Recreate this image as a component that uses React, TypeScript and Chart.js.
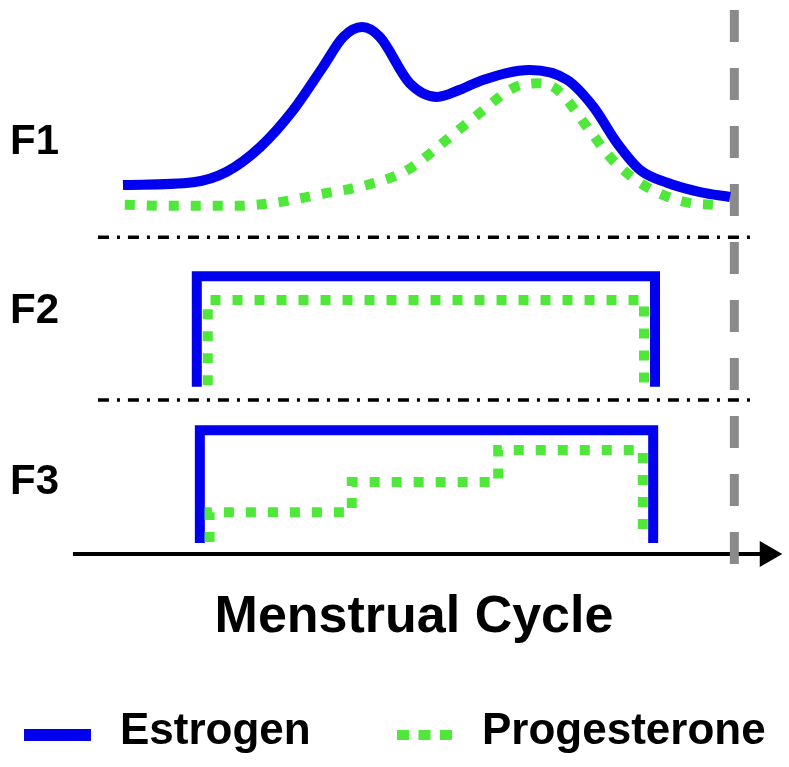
import React, { useEffect, useRef } from 'react';
import { Chart, registerables } from 'chart.js';

Chart.register(...registerables);

// x = position within the menstrual cycle (0 = start, 100 = end of cycle)
// y = hormone level inside each panel (added to the panel base)

const PANEL_LABELS = ['F3', 'F2', 'F1'];
const PANEL_BASES = [0, 28, 57.6];
const PANEL_LABEL_LEVELS = [13, 16.1, 17.2];

// F1: physiological curves
const F1_X_ESTROGEN = [-0.2, 11.3, 16.8, 22.3, 27.7, 32.6, 35.9, 39.0, 41.9, 46.8, 51.3, 55.0, 58.8, 66.5, 72.6, 76.9, 80.8, 84.6, 89.0, 94.4, 99.3];
const F1_ESTROGEN = [9.5, 10.0, 11.9, 16.4, 23.1, 31.0, 36.4, 38.2, 36.4, 28.0, 25.5, 26.8, 28.6, 30.4, 28.6, 23.7, 17.1, 12.2, 9.9, 8.2, 7.3];
const F1_X_PROGESTERONE = [0.1, 7.5, 18.5, 25.5, 32.6, 39.8, 46.4, 52.6, 58.3, 63.7, 67.7, 71.0, 75.9, 80.1, 85.7, 92.8, 96.9];
const F1_PROGESTERONE = [5.9, 5.7, 5.7, 6.4, 7.9, 9.5, 12.2, 17.5, 22.6, 27.1, 28.0, 26.8, 20.0, 14.0, 9.1, 6.2, 5.9];

// F2: constant doses
const F2_X_ESTROGEN = [11.9, 11.9, 87.0, 87.0];
const F2_ESTROGEN = [2.4, 22.5, 22.5, 2.4];
const F2_X_PROGESTERONE = [13.7, 13.7, 85.2, 85.2];
const F2_PROGESTERONE = [2.7, 18.2, 18.2, 2.7];

// F3: constant estrogen, stepped progesterone
const F3_X_ESTROGEN = [12.4, 12.4, 86.7, 86.7];
const F3_ESTROGEN = [2.0, 22.5, 22.5, 2.0];
const F3_X_PROGESTERONE = [14.0, 14.0, 37.3, 37.3, 61.3, 61.3, 85.0, 85.0];
const F3_PROGESTERONE = [2.2, 7.6, 7.6, 13.1, 13.1, 18.9, 18.9, 2.5];

// guides
const SEPARATOR_X = [-4.3, 102.6];
const CYCLE_END_X = [100, 100];
const CYCLE_END_Y = [98.9, -2.2];
const AXIS_X = [-8.4, 105.4];

const ESTROGEN_COLOR = '#0000EE';
const PROGESTERONE_COLOR = '#4FE83A';
const FONT = "'Liberation Sans', Arial, Helvetica, sans-serif";

const LEGEND_ITEMS = [
  { label: 'Estrogen', color: ESTROGEN_COLOR, dash: [] as number[], width: 12, x0: 24, x1: 91, tx: 120 },
  { label: 'Progesterone', color: PROGESTERONE_COLOR, dash: [12, 9.5], width: 10, x0: 397, x1: 452, tx: 482 },
];

const pts = (xs: number[], ys: number[], base: number) => xs.map((x, i) => ({ x, y: base + ys[i] }));

const legendPlugin = {
  id: 'bottomLegend',
  afterDraw(chart: any) {
    const ctx = chart.ctx as CanvasRenderingContext2D;
    ctx.save();
    LEGEND_ITEMS.forEach((it) => {
      ctx.beginPath();
      ctx.setLineDash(it.dash);
      ctx.lineCap = 'butt';
      ctx.lineWidth = it.width;
      ctx.strokeStyle = it.color;
      ctx.moveTo(it.x0, 735);
      ctx.lineTo(it.x1, 735);
      ctx.stroke();
      ctx.setLineDash([]);
      ctx.fillStyle = '#000';
      ctx.font = `bold 44px ${FONT}`;
      ctx.textAlign = 'left';
      ctx.textBaseline = 'middle';
      ctx.fillText(it.label, it.tx, 732);
    });
    ctx.restore();
  },
};

export default function App() {
  const ref = useRef<HTMLCanvasElement>(null);

  useEffect(() => {
    if (!ref.current) return;
    const common = { pointRadius: 0, clip: false as any, borderCapStyle: 'butt' as const, borderJoinStyle: 'miter' as const, fill: false };
    const est = (data: any[], curve: boolean) => ({
      ...common, label: 'Estrogen', data, borderColor: ESTROGEN_COLOR, borderWidth: 10,
      tension: curve ? 0.4 : 0, cubicInterpolationMode: curve ? ('monotone' as const) : ('default' as const),
    });
    const prog = (data: any[], curve: boolean) => ({
      ...common, label: 'Progesterone', data, borderColor: PROGESTERONE_COLOR, borderWidth: 10, borderDash: [10, 12],
      tension: curve ? 0.4 : 0, cubicInterpolationMode: curve ? ('monotone' as const) : ('default' as const),
    });
    const sep = (base: number) => ({
      ...common, label: 'separator', data: SEPARATOR_X.map((x) => ({ x, y: base })),
      borderColor: '#000', borderWidth: 3.5, borderDash: [11, 8, 3, 8], tension: 0,
    });

    const chart = new Chart(ref.current, {
      type: 'line',
      data: {
        datasets: [
          prog(pts(F1_X_PROGESTERONE, F1_PROGESTERONE, PANEL_BASES[2]), true),
          est(pts(F1_X_ESTROGEN, F1_ESTROGEN, PANEL_BASES[2]), true),
          prog(pts(F2_X_PROGESTERONE, F2_PROGESTERONE, PANEL_BASES[1]), false),
          est(pts(F2_X_ESTROGEN, F2_ESTROGEN, PANEL_BASES[1]), false),
          prog(pts(F3_X_PROGESTERONE, F3_PROGESTERONE, PANEL_BASES[0]), false),
          est(pts(F3_X_ESTROGEN, F3_ESTROGEN, PANEL_BASES[0]), false),
          {
            ...common, label: 'cycle end', data: CYCLE_END_X.map((x, i) => ({ x, y: CYCLE_END_Y[i] })),
            borderColor: '#8A8A8A', borderWidth: 9, borderDash: [32, 26], tension: 0,
          },
          sep(PANEL_BASES[2]),
          sep(PANEL_BASES[1]),
          {
            ...common, label: 'axis', data: AXIS_X.map((x) => ({ x, y: 0 })),
            borderColor: '#000', borderWidth: 4, tension: 0,
            pointRadius: [0, 15], pointStyle: 'triangle', pointRotation: 90,
            pointBackgroundColor: '#000', pointBorderColor: '#000', pointBorderWidth: 0,
          } as any,
        ],
      },
      options: {
        responsive: false,
        animation: false,
        events: [],
        layout: { autoPadding: false, padding: { left: 10, right: 26, top: 4, bottom: 118.6 } },
        plugins: { legend: { display: false }, tooltip: { enabled: false }, title: { display: false } },
        scales: {
          x: {
            type: 'linear', min: -9.7, max: 104.7,
            grid: { display: false, drawTicks: false }, border: { display: false },
            ticks: { display: false },
            title: { display: true, text: 'Menstrual Cycle', color: '#000', font: { family: FONT, size: 52, weight: 'bold' }, padding: { top: 21, bottom: 0 } },
          },
          y: {
            type: 'linear', min: -2, max: 100, position: 'left',
            grid: { display: false, drawTicks: false }, border: { display: false },
            ticks: {
              color: '#000', font: { family: FONT, size: 42, weight: 'bold' }, crossAlign: 'far', padding: 0, autoSkip: false,
              callback: (_v: any, i: number) => PANEL_LABELS[i],
            },
            afterBuildTicks: (axis: any) => {
              axis.ticks = PANEL_BASES.map((b, i) => ({ value: b + PANEL_LABEL_LEVELS[i] }));
            },
            afterFit: (axis: any) => {
              axis.width = 55;
              axis.paddingTop = 0;
              axis.paddingBottom = 0;
            },
          },
        },
      } as any,
      plugins: [legendPlugin],
    });
    return () => chart.destroy();
  }, []);

  return (
    <div style={{ position: 'absolute', left: 0, top: 0, width: 789, height: 767, background: '#fff' }}>
      <canvas ref={ref} width={789} height={767} style={{ display: 'block', width: 789, height: 767 }} />
    </div>
  );
}
